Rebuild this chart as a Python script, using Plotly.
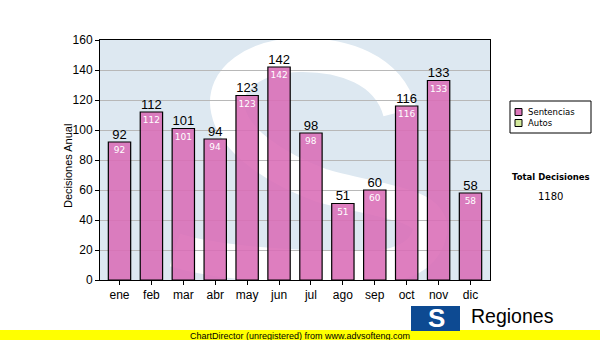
import plotly.graph_objects as go

months = ["ene", "feb", "mar", "abr", "may", "jun", "jul", "ago", "sep", "oct", "nov", "dic"]
sentencias = [92, 112, 101, 94, 123, 142, 98, 51, 60, 116, 133, 58]
autos = [None] * 12
legend_names = ["Sentencias", "Autos"]
legend_colors = ["#dd77bb", "#d4ea9c"]
total_label = "Total Decisiones"
total_value = sum(sentencias)

L, R, T, B = 100, 490, 40, 280
W, H = R - L, B - T

def px(x):
    return (x - L) / W

def py(y):
    return (B - y) / H

fig = go.Figure()
fig.add_trace(go.Bar(
    x=months, y=sentencias, name=legend_names[0],
    marker=dict(color="rgba(218,108,182,0.88)", line=dict(color="black", width=1.2)),
    width=0.7,
    text=[str(v) for v in sentencias], textposition="inside", insidetextanchor="end",
    textangle=0, constraintext="none",
    insidetextfont=dict(family="DejaVu Sans", size=9, color="white"),
    showlegend=False, cliponaxis=False,
))
fig.add_trace(go.Bar(x=months, y=autos, name=legend_names[1], showlegend=False,
                     marker=dict(color=legend_colors[1])))
fig.add_trace(go.Scatter(
    x=months, y=sentencias, mode="text", text=[str(v) for v in sentencias],
    textposition="top center", textfont=dict(family="Liberation Sans, Arial", size=13, color="black"),
    showlegend=False, hoverinfo="skip", cliponaxis=False,
))

shapes = []
# watermark S
s_path = ("M 0.769,0.70 C 0.74,0.88 0.62,0.94 0.513,0.9375 "
          "C 0.40,0.935 0.31,0.84 0.328,0.708 "
          "C 0.345,0.57 0.46,0.46 0.564,0.396 "
          "C 0.70,0.33 0.86,0.32 0.846,0.20 "
          "C 0.83,0.08 0.75,0.05 0.667,0.05 "
          "C 0.50,0.05 0.30,0.07 0.192,0.125")
shapes.append(dict(type="path", xref="paper", yref="paper", path=s_path,
                   line=dict(color="white", width=34), layer="below"))
# legend box
shapes.append(dict(type="rect", xref="paper", yref="paper", x0=px(510), x1=px(591), y0=py(101), y1=py(133),
                   line=dict(color="black", width=1), fillcolor="white", layer="above"))
for i, c in enumerate(legend_colors):
    yc = 112 + i * 11
    shapes.append(dict(type="rect", xref="paper", yref="paper", x0=px(515), x1=px(522), y0=py(yc - 3.5), y1=py(yc + 3.5),
                       line=dict(color="black", width=1), fillcolor=c, layer="above"))
# yellow band
shapes.append(dict(type="rect", xref="paper", yref="paper", x0=px(-5), x1=px(605), y0=py(330), y1=py(345),
                   line=dict(width=0), fillcolor="#ffff00", layer="above"))
# logo block
shapes.append(dict(type="rect", xref="paper", yref="paper", x0=px(411), x1=px(460), y0=py(306), y1=py(331),
                   line=dict(width=0), fillcolor="#0d4a92", layer="above"))

annotations = []
for i, n in enumerate(legend_names):
    annotations.append(dict(xref="paper", yref="paper", x=px(526), y=py(112 + i * 11), text=n,
                            showarrow=False, xanchor="left", yanchor="middle",
                            font=dict(family="DejaVu Sans", size=8.5, color="black")))
annotations.append(dict(xref="paper", yref="paper", x=px(551), y=py(177), text="<b>" + total_label + "</b>",
                        showarrow=False, xanchor="center", yanchor="middle",
                        font=dict(family="DejaVu Sans", size=8.5, color="black")))
annotations.append(dict(xref="paper", yref="paper", x=px(550), y=py(196), text=str(total_value),
                        showarrow=False, xanchor="center", yanchor="middle",
                        font=dict(family="DejaVu Sans", size=10, color="black")))
annotations.append(dict(xref="paper", yref="paper", x=px(68), y=py(166), text="Decisiones Anual",
                        textangle=-90, showarrow=False, xanchor="center", yanchor="middle",
                        font=dict(family="Liberation Sans, Arial", size=11, color="black")))
annotations.append(dict(xref="paper", yref="paper", x=px(300), y=py(335.5),
                        text="ChartDirector (unregistered) from www.advsofteng.com",
                        showarrow=False, xanchor="center", yanchor="middle",
                        font=dict(family="Liberation Sans, Arial", size=9, color="black")))
annotations.append(dict(xref="paper", yref="paper", x=px(469), y=py(316), text="Regiones",
                        showarrow=False, xanchor="left", yanchor="middle",
                        font=dict(family="Liberation Sans, Arial", size=19.5, color="black")))
annotations.append(dict(xref="paper", yref="paper", x=px(436), y=py(318), text="<b>S</b>",
                        showarrow=False, xanchor="center", yanchor="middle",
                        font=dict(family="Liberation Sans, Arial", size=26, color="white")))

fig.update_layout(
    width=600, height=340,
    margin=dict(l=L, r=600 - R, t=T, b=340 - B, pad=0),
    paper_bgcolor="white", plot_bgcolor="#dde8f1",
    showlegend=False, barmode="overlay",
    shapes=shapes, annotations=annotations,
    xaxis=dict(showline=True, linecolor="black", linewidth=1, mirror=True,
               ticks="outside", ticklen=4, tickcolor="black",
               tickfont=dict(family="Liberation Sans, Arial", size=12, color="black"),
               showgrid=False, fixedrange=True),
    yaxis=dict(range=[0, 160], dtick=20, showline=True, linecolor="black", linewidth=1, mirror=True,
               ticks="outside", ticklen=4, tickcolor="black",
               tickfont=dict(family="Liberation Sans, Arial", size=12, color="black"),
               showgrid=True, gridcolor="#b8b8b8", gridwidth=1, zeroline=False, fixedrange=True),
)

fig.write_html("out.html", config={"displayModeBar": False},
               post_script="document.body.style.margin='0';document.body.style.overflow='hidden';")
